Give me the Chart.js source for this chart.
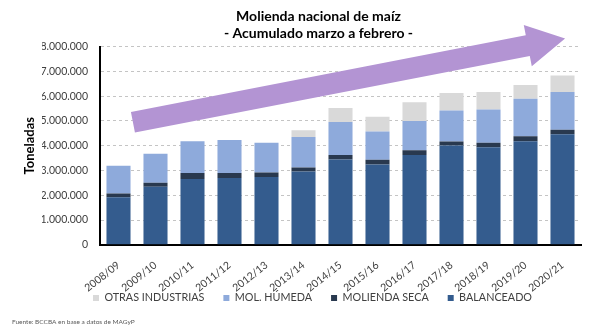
<!DOCTYPE html>
<html>
<head>
<meta charset="utf-8">
<script src="https://cdn.jsdelivr.net/npm/chart.js@4.4.1/dist/chart.umd.min.js"></script>
<style>
  html, body { margin: 0; padding: 0; background: #fff; }
  #wrap { width: 594px; height: 333px; }
</style>
</head>
<body>
<div id="wrap"><canvas id="molienda"></canvas></div>
<script>
// campañas (marzo a febrero)
const campanias = ["2008/09", "2009/10", "2010/11", "2011/12", "2012/13", "2013/14", "2014/15",
                   "2015/16", "2016/17", "2017/18", "2018/19", "2019/20", "2020/21"];

// toneladas
const balanceado    = [1920000, 2340000, 2660000, 2700000, 2740000, 2960000, 3440000, 3240000, 3630000, 4010000, 3940000, 4180000, 4460000];
const moliendaSeca  = [150000, 170000, 240000, 200000, 180000, 160000, 190000, 190000, 190000, 160000, 180000, 200000, 180000];
const molHumeda     = [1120000, 1170000, 1280000, 1330000, 1200000, 1230000, 1330000, 1140000, 1180000, 1250000, 1340000, 1520000, 1530000];
const otrasIndustr  = [0, 0, 0, 0, 0, 270000, 560000, 600000, 750000, 710000, 710000, 550000, 660000];

const yTicks = [0, 1000000, 2000000, 3000000, 4000000, 5000000, 6000000, 7000000, 8000000];

// separador de miles con punto
const miles = v => String(v).replace(/\B(?=(\d{3})+(?!\d))/g, ".");

// flecha violeta de tendencia (índice de categoría, toneladas)
const flecha = { desde: [0.39, 4950000], hasta: [12.07, 8330000] };

const flechaPlugin = {
  id: "flecha",
  afterLayout(chart) {
    // la leyenda va pegada a las etiquetas giradas, como en el original;
    // título y leyenda algo corridos a la derecha
    const leg = chart.legend, tit = chart.titleBlock;
    const labels = leg.options.labels;
    const dy = leg.top + labels.padding + labels.font.size / 2 - 298;
    leg.top -= dy; leg.bottom -= dy;
    leg.left += 1; leg.right += 1;
    tit.left += 7; tit.right += 7;
  },
  afterDatasetsDraw(chart) {
    const { ctx, scales: { x, y } } = chart;
    const x0 = x.getPixelForValue(flecha.desde[0]), y0 = y.getPixelForValue(flecha.desde[1]);
    const x1 = x.getPixelForValue(flecha.hasta[0]), y1 = y.getPixelForValue(flecha.hasta[1]);
    const len = Math.hypot(x1 - x0, y1 - y0);
    const ux = (x1 - x0) / len, uy = (y1 - y0) / len;
    const nx = -uy, ny = ux;
    const body = 10.5, head = 21, headLen = 38;
    const bx = x1 - ux * headLen, by = y1 - uy * headLen;
    ctx.save();
    ctx.fillStyle = "#b394d3";
    ctx.beginPath();
    ctx.moveTo(x0 + nx * body, y0 + ny * body);
    ctx.lineTo(bx + nx * body, by + ny * body);
    ctx.lineTo(bx + nx * head, by + ny * head);
    ctx.lineTo(x1, y1);
    ctx.lineTo(bx - nx * head, by - ny * head);
    ctx.lineTo(bx - nx * body, by - ny * body);
    ctx.lineTo(x0 - nx * body, y0 - ny * body);
    ctx.closePath();
    ctx.fill();
    ctx.restore();
  },
  afterDraw(chart) {
    const ctx = chart.ctx;
    ctx.save();
    ctx.font = "6.5px Lato, 'Liberation Sans', sans-serif";
    ctx.fillStyle = "#595959";
    ctx.textBaseline = "middle";
    ctx.fillText("Fuente: BCCBA en base a datos de MAGyP", 12, 322);
    ctx.restore();
  }
};

Chart.defaults.font.family = "Lato, 'Liberation Sans', sans-serif";
Chart.defaults.color = "#404040";

new Chart(document.getElementById("molienda"), {
  type: "bar",
  data: {
    labels: campanias,
    datasets: [
      { label: "BALANCEADO", data: balanceado, backgroundColor: "#345c8e" },
      { label: "MOLIENDA SECA", data: moliendaSeca, backgroundColor: "#29394f" },
      { label: "MOL. HÚMEDA", data: molHumeda, backgroundColor: "#8eaadb" },
      { label: "OTRAS INDUSTRIAS", data: otrasIndustr, backgroundColor: "#d9d9d9" }
    ]
  },
  options: {
    responsive: true,
    maintainAspectRatio: false,
    animation: false,
    categoryPercentage: 1,
    barPercentage: 0.65,
    layout: { padding: { left: 42, right: 13, top: 0, bottom: -15 } },
    scales: {
      x: {
        stacked: true,
        grid: { display: false, drawTicks: false },
        border: { color: "#000", width: 2 },
        ticks: { minRotation: 38, maxRotation: 38, padding: 14, font: { size: 10.5 }, color: "#404040" }
      },
      y: {
        stacked: true,
        min: 0,
        max: 8000000,
        afterBuildTicks: axis => { axis.ticks = yTicks.map(v => ({ value: v })); },
        afterFit: scale => { scale.width = 58; },
        grid: { color: "#c4c4c4", drawTicks: false },
        border: { color: "#000", width: 2, dash: [3, 3] },
        ticks: { padding: 12, font: { size: 10.5 }, color: "#404040", callback: v => miles(v) },
        // padding negativo: el título queda a la izquierda del margen del layout
        title: { display: true, text: "Toneladas", color: "#000", font: { size: 13, weight: "bold" }, padding: { top: -20, bottom: 0 } }
      }
    },
    plugins: {
      title: {
        display: true,
        text: ["Molienda nacional de maíz", "- Acumulado marzo a febrero -"],
        color: "#000",
        font: { size: 14, weight: "bold", lineHeight: 1.2 },
        padding: { top: 8, bottom: 5 }
      },
      legend: {
        position: "bottom",
        reverse: true,
        labels: { boxWidth: 6, boxHeight: 6, padding: 19, font: { size: 10.8 }, color: "#404040" }
      },
      tooltip: { enabled: false }
    }
  },
  plugins: [flechaPlugin]
});
</script>
</body>
</html>
